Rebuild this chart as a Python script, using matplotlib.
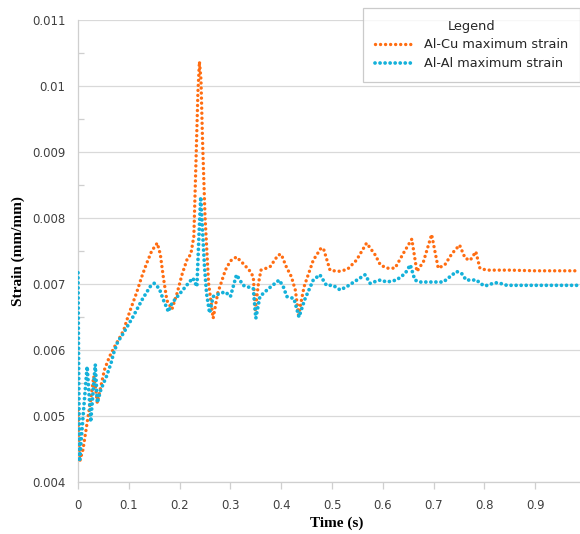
import matplotlib
matplotlib.use("Agg")
import matplotlib.pyplot as plt
from matplotlib.ticker import MultipleLocator

# Al-Cu joint: time (s) and maximum strain (mm/mm)
t_alcu = [0.000, 0.002, 0.004, 0.010, 0.018, 0.025, 0.031, 0.035, 0.038, 0.045,
          0.052, 0.062, 0.072, 0.083, 0.090, 0.096, 0.105, 0.115, 0.125, 0.135,
          0.145, 0.156, 0.162, 0.168, 0.175, 0.185, 0.195, 0.205, 0.215, 0.222,
          0.228, 0.232, 0.236, 0.239, 0.242, 0.245, 0.250, 0.257, 0.266, 0.275,
          0.290, 0.300, 0.312, 0.325, 0.337, 0.345, 0.349, 0.355, 0.360, 0.378,
          0.394, 0.400, 0.410, 0.420, 0.428, 0.434, 0.445, 0.463, 0.478, 0.483,
          0.496, 0.512, 0.530, 0.548, 0.568, 0.585, 0.595, 0.608, 0.624, 0.640,
          0.657, 0.667, 0.680, 0.696, 0.709, 0.722, 0.736, 0.751, 0.762, 0.772,
          0.783, 0.791, 0.804, 0.850, 0.900, 0.985]
s_alcu = [0.00509, 0.00470, 0.00433, 0.00450, 0.00490, 0.00525, 0.00560, 0.00540, 0.00520, 0.00545,
          0.00570, 0.00590, 0.00605, 0.00620, 0.00630, 0.00645, 0.00665, 0.00686, 0.00710, 0.00731,
          0.00750, 0.00762, 0.00745, 0.00710, 0.00675, 0.00662, 0.00686, 0.00715, 0.00738, 0.00745,
          0.00772, 0.00880, 0.00990, 0.01037, 0.01010, 0.00920, 0.00802, 0.00701, 0.00648, 0.00686,
          0.00721, 0.00735, 0.00741, 0.00731, 0.00721, 0.00711, 0.00661, 0.00700, 0.00721, 0.00726,
          0.00744, 0.00745, 0.00726, 0.00711, 0.00690, 0.00653, 0.00696, 0.00736, 0.00754, 0.00754,
          0.00721, 0.00719, 0.00722, 0.00736, 0.00762, 0.00744, 0.00729, 0.00724, 0.00724, 0.00746,
          0.00768, 0.00719, 0.00734, 0.00775, 0.00724, 0.00729, 0.00746, 0.00759, 0.00739, 0.00736,
          0.00749, 0.00724, 0.00721, 0.00721, 0.00720, 0.00720]

# Al-Al joint: time (s) and maximum strain (mm/mm)
t_alal = [0.000, 0.001, 0.003, 0.010, 0.018, 0.022, 0.025, 0.030, 0.034, 0.038,
          0.045, 0.056, 0.065, 0.070, 0.078, 0.089, 0.108, 0.126, 0.142, 0.150,
          0.160, 0.168, 0.178, 0.185, 0.200, 0.217, 0.226, 0.234, 0.238, 0.2415,
          0.245, 0.249, 0.253, 0.259, 0.266, 0.280, 0.290, 0.300, 0.312, 0.325,
          0.345, 0.350, 0.358, 0.375, 0.396, 0.404, 0.411, 0.425, 0.435, 0.446,
          0.463, 0.476, 0.489, 0.502, 0.516, 0.529, 0.549, 0.565, 0.575, 0.582,
          0.595, 0.608, 0.627, 0.644, 0.654, 0.663, 0.673, 0.719, 0.732, 0.745,
          0.755, 0.764, 0.785, 0.791, 0.801, 0.821, 0.831, 0.844, 0.985]
s_alal = [0.00717, 0.00600, 0.00431, 0.00500, 0.00575, 0.00530, 0.00491, 0.00540, 0.00578, 0.00520,
          0.00540, 0.00560, 0.00580, 0.00595, 0.00612, 0.00625, 0.00650, 0.00676, 0.00696, 0.00701,
          0.00693, 0.00676, 0.00658, 0.00671, 0.00685, 0.00701, 0.00709, 0.00696, 0.00772, 0.00832,
          0.00782, 0.00726, 0.00686, 0.00656, 0.00681, 0.00686, 0.00688, 0.00681, 0.00714, 0.00698,
          0.00693, 0.00648, 0.00681, 0.00693, 0.00706, 0.00696, 0.00681, 0.00678, 0.00650, 0.00676,
          0.00706, 0.00714, 0.00698, 0.00698, 0.00691, 0.00696, 0.00706, 0.00714, 0.00701, 0.00703,
          0.00706, 0.00703, 0.00706, 0.00716, 0.00729, 0.00706, 0.00703, 0.00703, 0.00711, 0.00719,
          0.00716, 0.00706, 0.00706, 0.00701, 0.00697, 0.00702, 0.00701, 0.00698, 0.00698]

x_ticks = [0, 0.1, 0.2, 0.3, 0.4, 0.5, 0.6, 0.7, 0.8, 0.9]
x_tick_labels = ["0", "0.1", "0.2", "0.3", "0.4", "0.5", "0.6", "0.7", "0.8", "0.9"]
y_ticks = [0.004, 0.005, 0.006, 0.007, 0.008, 0.009, 0.010, 0.011]
y_tick_labels = ["0.004", "0.005", "0.006", "0.007", "0.008", "0.009", "0.01", "0.011"]

series_names = ["Al-Cu maximum strain", "Al-Al maximum strain"]
ORANGE = "#FF6D12"
BLUE = "#14B1DA"
GRID = "#D9D9D9"

W, H = 580, 534
fig = plt.figure(figsize=(W / 100, H / 100), dpi=100)
ax = fig.add_axes([78 / W, (H - 482) / H, (581 - 78) / W, (482 - 20) / H])


def dotted(width):
    # round dots spaced about 5 px apart along the path
    return dict(linestyle=(0, (0.01, 3.6 / width)), linewidth=width,
                dash_capstyle="round", solid_capstyle="round")


ax.plot(t_alcu, s_alcu, color=ORANGE, label=series_names[0], zorder=3, **dotted(2.45))
ax.plot(t_alal, s_alal, color=BLUE, label=series_names[1], zorder=4, **dotted(2.7))

ax.set_xlim(0, 0.99)
ax.set_ylim(0.004, 0.011)
ax.set_xticks(x_ticks)
ax.set_xticklabels(x_tick_labels)
ax.set_yticks(y_ticks)
ax.set_yticklabels(y_tick_labels)
ax.yaxis.set_minor_locator(MultipleLocator(0.0005))

ax.grid(axis="y", which="major", color=GRID, linewidth=0.9, zorder=0)
for side in ("top", "right"):
    ax.spines[side].set_visible(False)
for side in ("left", "bottom"):
    ax.spines[side].set_color("#CFCFCF")
    ax.spines[side].set_linewidth(0.9)

ax.tick_params(axis="x", which="major", direction="out", length=5, width=0.9,
               color="#CFCFCF", pad=7, labelsize=8.5, labelcolor="#404040")
ax.tick_params(axis="y", which="major", length=0, pad=9, labelsize=8.5,
               labelcolor="#404040")
ax.tick_params(axis="y", which="minor", direction="in", length=4, width=0.9,
               color="#CFCFCF")

label_font = dict(family="Liberation Serif", weight="bold", size=11, color="black")
ax.set_xlabel("Time (s)", va="center", ha="center", **label_font)
ax.xaxis.set_label_coords((337 - 78) / (581 - 78), -(523 - 482) / (482 - 20))
ax.set_ylabel("Strain (mm/mm)", va="center", ha="center", **label_font)
ax.yaxis.set_label_coords(-(78 - 18) / (581 - 78), (482 - 251) / (482 - 20))

leg = ax.legend(title="Legend", loc="upper left",
                bbox_to_anchor=(363 / W, 1 - 8 / H), bbox_transform=fig.transFigure,
                frameon=True, fancybox=False, edgecolor="#BFBFBF",
                prop=dict(family="DejaVu Sans", size=9.3),
                title_fontproperties=dict(family="DejaVu Sans", size=9.3),
                handlelength=3.0, handletextpad=0.85, borderpad=0.9, labelspacing=0.45,
                borderaxespad=0)
leg.get_frame().set_linewidth(0.9)
for txt in leg.get_texts():
    txt.set_color("#262626")
leg.get_title().set_color("#262626")

fig.savefig("out.png", dpi=100)
